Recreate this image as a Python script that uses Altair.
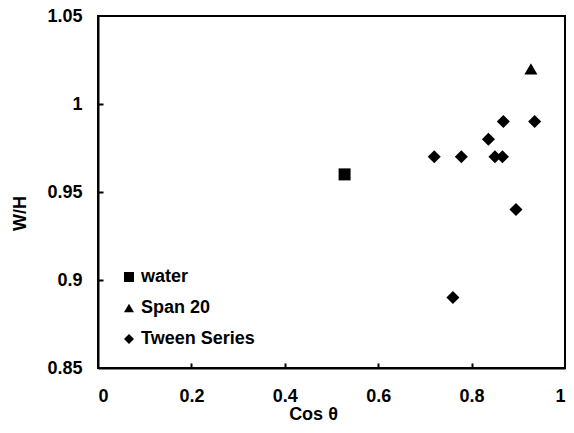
import altair as alt
import pandas as pd

# data
water_x = [0.528]
water_y = [0.96]
span_x = [0.927]
span_y = [1.02]
tween_x = [0.72, 0.778, 0.85, 0.866, 0.836, 0.868, 0.935, 0.895, 0.76]
tween_y = [0.97, 0.97, 0.97, 0.97, 0.98, 0.99, 0.99, 0.94, 0.89]
series_names = ["water", "Span 20", "Tween Series"]
marker_sizes = [144, 170, 170]
x_ticks = [0, 0.2, 0.4, 0.6, 0.8, 1]
y_ticks = [0.85, 0.9, 0.95, 1.0, 1.05]

rows = []
for xs, ys, name, sz in [(water_x, water_y, "water", marker_sizes[0]),
                         (span_x, span_y, "Span 20", marker_sizes[1]),
                         (tween_x, tween_y, "Tween Series", marker_sizes[2])]:
    for a, b in zip(xs, ys):
        rows.append({"x": a, "y": b, "series": name, "sz": sz})
df = pd.DataFrame(rows)

FONT = "Liberation Sans"
W, H = 467, 352

xscale = alt.Scale(domain=[0, 1], nice=False)
yscale = alt.Scale(domain=[0.85, 1.05], nice=False)

pts = alt.Chart(df).mark_point(filled=True, color="black", opacity=1).encode(
    x=alt.X("x:Q", scale=xscale,
            axis=alt.Axis(values=x_ticks, format=".1~f", ticks=False, tickSize=0, labelPadding=19,
                          title="Cos θ", titleX=215, titleY=46, titleBaseline="middle",
                          grid=False)),
    y=alt.Y("y:Q", scale=yscale,
            axis=alt.Axis(values=y_ticks, format=".2~f", ticks=False, tickSize=0, labelPadding=16,
                          title="W/H", titleX=-78, titleY=197, titleBaseline="middle",
                          grid=False)),
    shape=alt.Shape("series:N",
                    scale=alt.Scale(domain=series_names, range=["square", "triangle-up", "diamond"]),
                    legend=alt.Legend(title=None, orient="none", legendX=22, legendY=252,
                                      symbolSize=100, symbolFillColor="black", symbolStrokeWidth=0,
                                      labelFontSize=18, labelFont=FONT, labelFontWeight="bold",
                                      labelColor="black", rowPadding=13, padding=0, labelOffset=3)),
    size=alt.Size("sz:Q", scale=None),
)

ticks_layer = alt.Chart(df).mark_point(opacity=0).encode(
    x=alt.X("x:Q", scale=xscale,
            axis=alt.Axis(orient="top", offset=-H, values=[0.2, 0.4, 0.6, 0.8], labels=False,
                          ticks=True, tickSize=5, tickWidth=2, tickColor="black", domain=False,
                          title=None, grid=False)),
    y=alt.Y("y:Q", scale=yscale,
            axis=alt.Axis(orient="right", offset=-W, values=[0.9, 0.95, 1.0], labels=False,
                          ticks=True, tickSize=5, tickWidth=2, tickColor="black", domain=False,
                          title=None, grid=False)),
)

chart = alt.layer(pts, ticks_layer).resolve_axis(x="independent", y="independent").properties(
    width=W, height=H,
    autosize=alt.AutoSizeParams(type="none"),
    padding={"left": 90, "top": 8, "right": 1, "bottom": 57},
).configure_view(stroke="black", strokeWidth=2).configure_axis(
    domainColor="black", domainWidth=2,
    labelFont=FONT, labelFontSize=18, labelFontWeight="bold", labelColor="black",
    titleFont=FONT, titleFontSize=18, titleFontWeight="bold", titleColor="black",
)

chart.save("out.html", embed_options={"renderer": "svg", "actions": False})
